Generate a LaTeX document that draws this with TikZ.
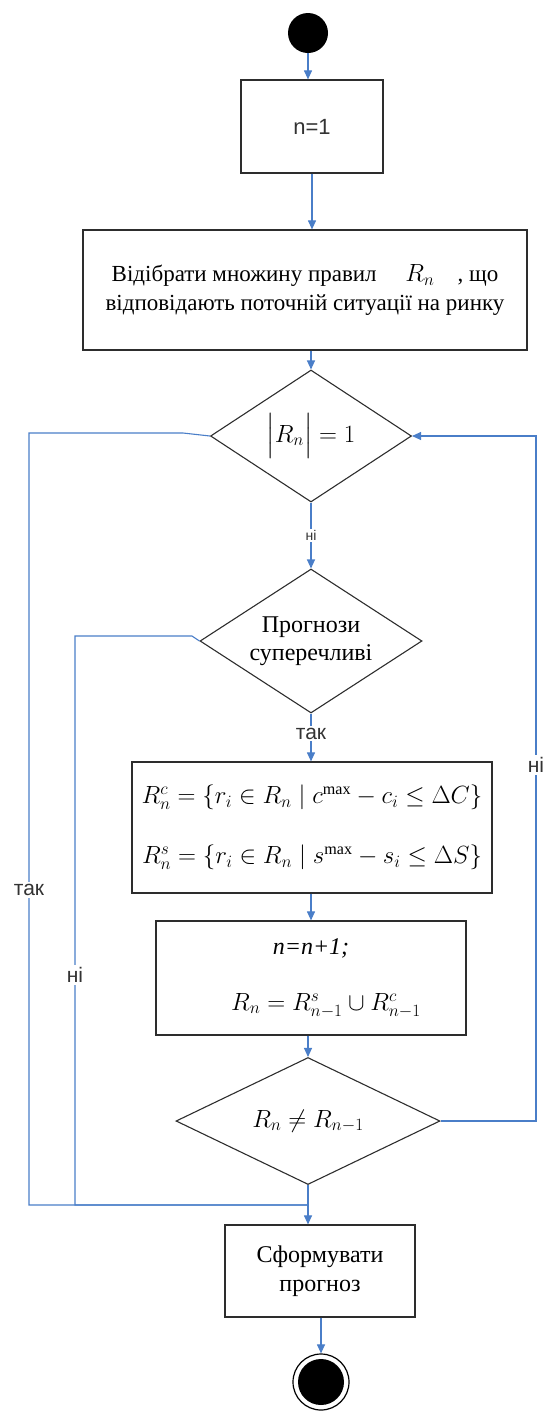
\documentclass[tikz,border=0pt]{standalone}
\usepackage{amsmath}
\usepackage{fontspec}
\setmainfont{Liberation Serif}
\setsansfont{Liberation Sans}
\usetikzlibrary{shapes.geometric,arrows.meta}
\definecolor{flow}{RGB}{74,126,200}
\definecolor{edgec}{RGB}{45,45,45}
\begin{document}
\begin{tikzpicture}[x=1pt,y=-1pt,
  box/.style={draw=edgec, line width=1.2pt, rectangle, inner sep=0pt, align=center},
  dec/.style={draw=edgec, line width=1.1pt, diamond, inner sep=0pt, align=center, shape aspect=1.6},
  arr/.style={draw=flow, line width=1.1pt, -{Triangle[length=9pt,width=8pt]}},
  ln/.style={draw=flow, line width=1.1pt},
  lab/.style={fill=white, inner sep=2pt, font=\sffamily\fontsize{21}{24}\selectfont, text=black!80},
  smalllab/.style={fill=white, inner sep=1.5pt, font=\sffamily\fontsize{14}{16}\selectfont, text=black!80}
]
\useasboundingbox (0,0) rectangle (544,1414);
\node[circle, fill=black, minimum size=40pt, inner sep=0pt] (start) at (308,33) {};
\node[box, minimum width=142pt, minimum height=93pt, font=\sffamily\fontsize{22}{26}\selectfont, text=black!80] (b1) at (312,126.5) {n=1};
\node[box, minimum width=444pt, minimum height=120pt, font=\fontsize{23}{29}\selectfont] (b2) at (305,290) {Відібрати множину правил \quad{\fontsize{26}{29}\selectfont$R_n$}\quad, що\\відповідають поточній ситуації на ринку};
\node[dec, minimum width=201pt, minimum height=132pt, font=\fontsize{23}{28}\selectfont] (d1) at (311,436) {$\Bigl|R_n\Bigr| = 1$};
\node[dec, minimum width=222pt, minimum height=144pt, font=\fontsize{24}{28}\selectfont] (d2) at (311,641) {Прогнози\\суперечливі};
\node[box, minimum width=360pt, minimum height=131pt, font=\fontsize{23}{30}\selectfont] (b3) at (312,827.5) {$R_n^c = \{r_i \in R_n \mid c^{\max} - c_i \le \Delta C\}$\\[30pt]$R_n^s = \{r_i \in R_n \mid s^{\max} - s_i \le \Delta S\}$};
\node[box, minimum width=310pt, minimum height=114pt, font=\fontsize{24}{30}\selectfont] (b4) at (311,978) {\textit{n=n+1;}\\[26pt]\hspace*{30pt}$R_n = R_{n-1}^s \cup R_{n-1}^c$};
\node[dec, minimum width=264pt, minimum height=127pt, font=\fontsize{24}{28}\selectfont] (d3) at (308,1121) {$R_n \ne R_{n-1}$};
\node[box, minimum width=190pt, minimum height=92pt, font=\fontsize{24}{29}\selectfont] (b5) at (320,1271) {Сформувати\\прогноз};
\node[circle, draw=black, line width=1.2pt, minimum size=56pt, inner sep=0pt] (end) at (321,1382) {};
\fill[black] (end.center) circle[radius=23pt];
% connectors
\draw[arr] (start) -- (start |- b1.north);
\draw[arr] (b1.south) -- (b1.south |- b2.north);
\draw[arr] (d1.north |- b2.south) -- (d1.north);
\draw[arr] (d1.south) -- (d2.north) node[smalllab, pos=0.5] (lni1) {ні};
\draw[arr] (d2.south) -- (d2.south |- b3.north) node[lab, pos=0.42] (ltak1) {так};
\draw[arr] (b4.north |- b3.south) -- (b4.north);
\draw[arr] (d3.north |- b4.south) -- (d3.north);
\draw[arr] (d3.south) -- (d3.south |- b5.north);
\draw[arr] (end.north |- b5.south) -- (end.north);
\coordinate (m) at (308,1205);
\coordinate (rr) at (536,1121);
\coordinate (rt) at (536,436);
\draw[arr] (d3.east) -- (rr) -- (rt) -- (d1.east);
\coordinate (l1a) at (183,433);
\coordinate (l1b) at (29,433);
\coordinate (l1c) at (29,1205);
\draw[ln] (d1.west) -- (l1a) -- (l1b) -- (l1c) -- (m);
\coordinate (l2a) at (192,636);
\coordinate (l2b) at (75,636);
\coordinate (l2c) at (75,1205);
\draw[ln] (d2.west) -- (l2a) -- (l2b) -- (l2c) -- (m);
\node[lab] (lni2) at (536,765) {ні};
\node[lab] (ltak2) at (29,890) {так};
\node[lab] (lni3) at (75,975) {ні};
\end{tikzpicture}
\end{document}
